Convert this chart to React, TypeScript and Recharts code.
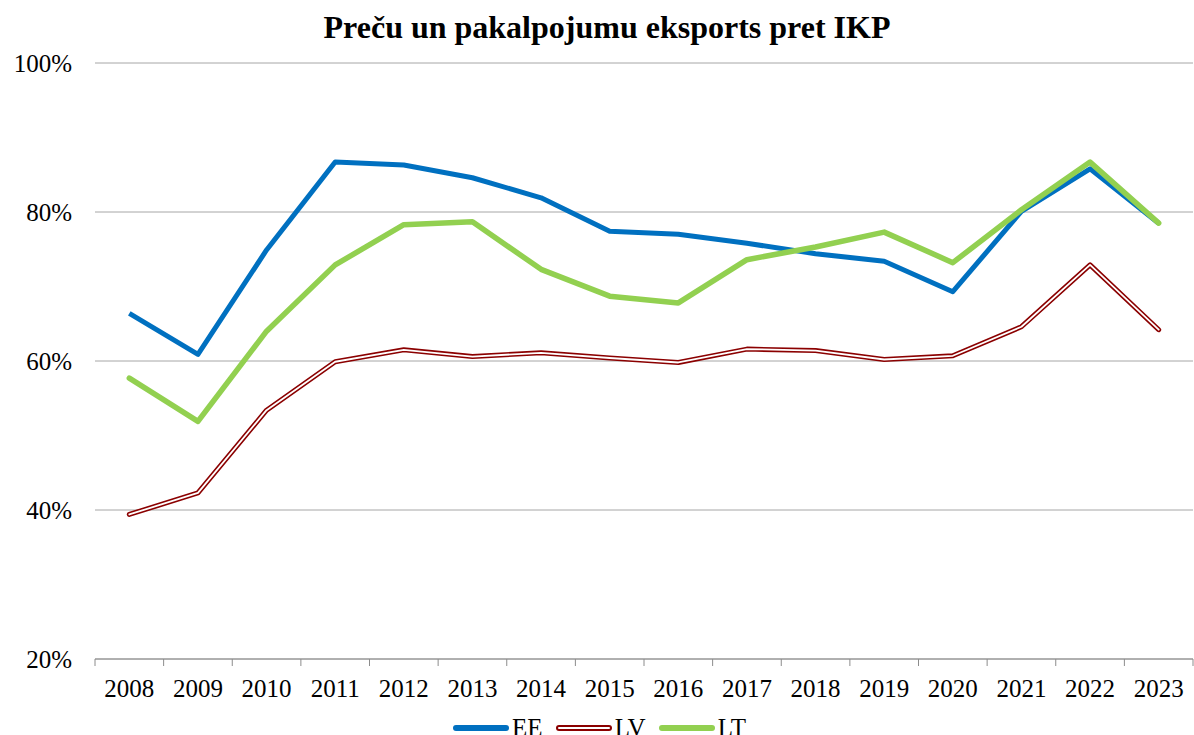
import React from "react";
import { CartesianGrid, Line, LineChart, XAxis, YAxis } from "recharts";

const years = ["2008", "2009", "2010", "2011", "2012", "2013", "2014", "2015", "2016", "2017", "2018", "2019", "2020", "2021", "2022", "2023"];
const ee = [66.4, 60.9, 74.9, 86.7, 86.3, 84.6, 81.9, 77.4, 77.0, 75.8, 74.4, 73.4, 69.3, 80.1, 85.8, 78.5];
const lv = [39.4, 42.3, 53.4, 59.9, 61.5, 60.6, 61.1, 60.4, 59.8, 61.6, 61.4, 60.2, 60.7, 64.6, 72.9, 64.2];
const lt = [57.7, 51.9, 64.0, 72.9, 78.3, 78.7, 72.3, 68.7, 67.8, 73.6, 75.3, 77.3, 73.2, 80.3, 86.7, 78.5];
const yTicks = [20, 40, 60, 80, 100];

const data = years.map((year, i) => ({ year, EE: ee[i], LV: lv[i], LT: lt[i] }));

const FONT = "Liberation Serif, Times New Roman, serif";
const W = 1194;
const H = 735;
const LEFT = 95;
const RIGHT = 1;
const band = (W - LEFT - RIGHT) / years.length;

function XTick(props: any) {
  const { x, y, payload, index } = props;
  const left = x - band / 2;
  return (
    <g>
      <line x1={left} y1={y} x2={left} y2={y + 7} stroke="#8c8c8c" strokeWidth={1} />
      {index === years.length - 1 && (
        <line x1={x + band / 2} y1={y} x2={x + band / 2} y2={y + 7} stroke="#8c8c8c" strokeWidth={1} />
      )}
      <text x={x} y={y + 38} textAnchor="middle" fontFamily={FONT} style={{ fontFamily: FONT, fontSize: 25 }} fill="#000">
        {payload.value}
      </text>
    </g>
  );
}

function YTick(props: any) {
  const { x, y, payload } = props;
  return (
    <text x={x} y={y + 9} textAnchor="end" fontFamily={FONT} style={{ fontFamily: FONT, fontSize: 25 }} fill="#000">
      {`${payload.value}%`}
    </text>
  );
}

function LegendSwatch({ color, double }: { color: string; double?: boolean }) {
  return (
    <svg width={58} height={12} style={{ marginRight: 2 }}>
      <line x1={4} y1={6} x2={54} y2={6} stroke={color} strokeWidth={6} strokeLinecap="round" />
      {double && <line x1={4} y1={6} x2={54} y2={6} stroke="#fff" strokeWidth={2} strokeLinecap="round" />}
    </svg>
  );
}

export default function App() {
  return (
    <div style={{ position: "absolute", left: 0, top: 0, width: W, height: H, background: "#fff", overflow: "hidden", fontFamily: FONT }}>
      <div style={{ position: "absolute", top: 9, left: 0, width: 1214, textAlign: "center", fontWeight: "bold", fontSize: 32, color: "#000" }}>
        Preču un pakalpojumu eksports pret IKP
      </div>
      <LineChart width={W} height={H} data={data} margin={{ top: 63, right: RIGHT, bottom: 0, left: 0 }}>
        <CartesianGrid vertical={false} stroke="#a6a6a6" strokeWidth={1} />
        <XAxis
          dataKey="year"
          height={76}
          tick={<XTick />}
          tickLine={false}
          tickSize={0}
          tickMargin={0}
          padding={{ left: band / 2, right: band / 2 }}
          axisLine={{ stroke: "#8c8c8c", strokeWidth: 1 }}
          interval={0}
        />
        <YAxis
          width={LEFT}
          domain={[20, 100]}
          ticks={yTicks}
          axisLine={false}
          tickLine={false}
          tickSize={0}
          tickMargin={23}
          tick={<YTick />}
        />
        <Line dataKey="EE" stroke="#0070c0" strokeWidth={5} dot={false} isAnimationActive={false} strokeLinejoin="round" />
        <Line dataKey="LV" stroke="#8b0000" strokeWidth={5} dot={false} isAnimationActive={false} strokeLinecap="round" strokeLinejoin="round" />
        <Line dataKey="LV" stroke="#ffffff" strokeWidth={1.8} dot={false} isAnimationActive={false} strokeLinecap="round" strokeLinejoin="round" />
        <Line dataKey="LT" stroke="#92d050" strokeWidth={5.5} dot={false} isAnimationActive={false} strokeLinecap="round" strokeLinejoin="round" />
      </LineChart>
      <div style={{ position: "absolute", top: 714, left: 2, width: 1194, display: "flex", justifyContent: "center", alignItems: "center", fontSize: 25, color: "#000" }}>
        <LegendSwatch color="#0070c0" />
        <span style={{ marginRight: 12 }}>EE</span>
        <LegendSwatch color="#8b0000" double />
        <span style={{ marginRight: 12 }}>LV</span>
        <LegendSwatch color="#92d050" />
        <span>LT</span>
      </div>
    </div>
  );
}
